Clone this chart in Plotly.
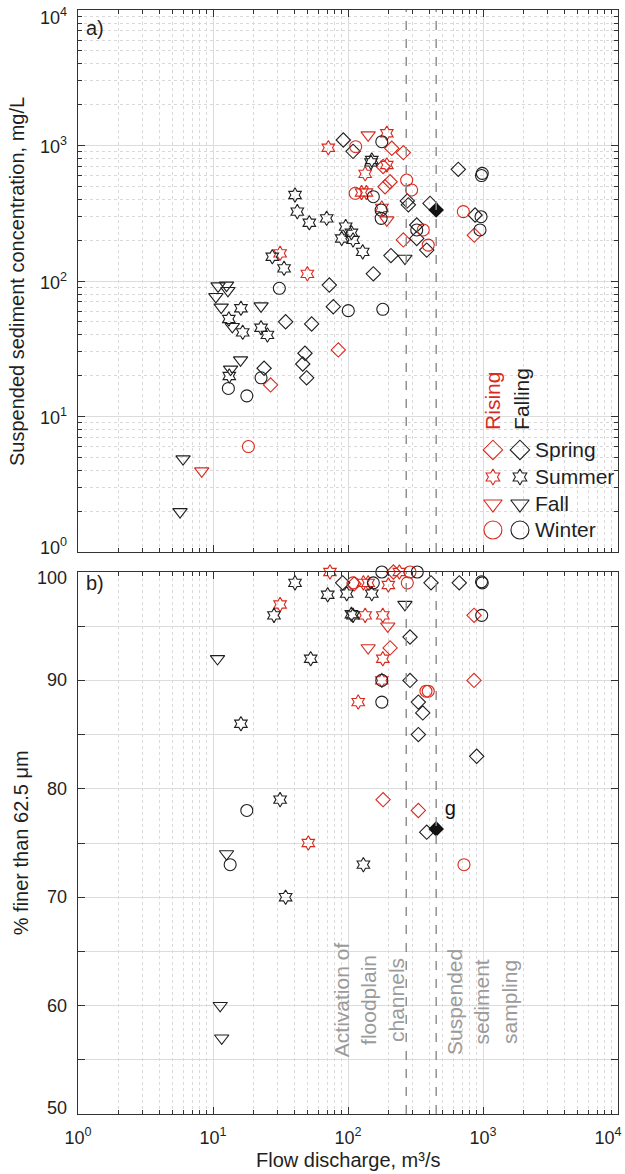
import math
import plotly.graph_objects as go

# ---------------- data ----------------
# Panel a: suspended sediment concentration (mg/L) against flow discharge (m3/s)
a_spr_rise_q = [26.7, 84.8, 211, 257, 182, 205, 188, 257, 862]
a_spr_rise_c = [17.1, 31, 954, 885, 700, 540, 496, 201, 218]
a_spr_fall_q = [23.9, 34.5, 53.8, 48, 46.2, 49.4, 72.7, 77.8, 92.3, 109, 154, 208, 275, 280, 405, 323, 323, 383, 656, 873]
a_spr_fall_c = [22.7, 50, 48.2, 29.3, 24.4, 19.3, 93.4, 64.6, 1098, 905, 113, 154, 390, 365, 374, 259, 206, 169, 667, 307]
a_sum_rise_q = [31.4, 50, 71.5, 194, 194, 134, 126, 137, 178]
a_sum_rise_c = [160, 113, 963, 1231, 718, 618, 450, 450, 346]
a_sum_fall_q = [13.2, 13.1, 16.1, 16.6, 22.7, 25.3, 27.5, 33.6, 40.5, 42.1, 51.7, 69.5, 89.8, 96.1, 106, 109, 128.5, 150, 148]
a_sum_fall_c = [19.9, 52.4, 62.9, 41.8, 45.2, 40, 151, 124, 431, 325, 269, 290, 206, 252, 227, 201, 164, 782, 750]
a_fal_rise_q = [8.25, 141, 194]
a_fal_rise_c = [3.96, 1195, 282]
a_fal_fall_q = [5.7, 6.0, 10.5, 10.9, 11.5, 12.6, 12.9, 13.5, 13.9, 16.0, 22.7, 264]
a_fal_fall_c = [1.98, 4.86, 76.6, 91.8, 64, 93, 85, 22.3, 46, 26.1, 65.4, 147]
a_win_rise_q = [18.3, 113, 114, 272, 296, 361, 393, 715]
a_win_rise_c = [6.0, 444, 980, 556, 470, 238, 184, 325]
a_win_fall_q = [13.0, 17.8, 22.7, 31, 100.5, 181, 178, 154, 176, 176, 323, 988, 975, 967, 950]
a_win_fall_c = [16.1, 14.2, 19.3, 88.3, 60.4, 61.8, 1067, 419, 334, 290, 238, 623, 600, 298, 238]

# Panel b: percent finer than 62.5 um against flow discharge (m3/s)
b_spr_rise_q = [217, 255, 111, 858, 205, 858, 182, 332]
b_spr_rise_f = [100, 100.1, 98.9, 96, 93, 90, 79, 78]
b_spr_fall_q = [91.3, 412, 667, 288, 288, 332, 358, 332, 898, 383]
b_spr_fall_f = [99, 99, 99, 94, 90, 88, 87, 85, 83, 76]
b_sum_rise_q = [73.5, 31.4, 130, 141, 199, 134, 181, 181, 178, 119, 50.8, 240]
b_sum_rise_f = [100, 97, 99, 99, 98.8, 96, 96, 92, 90, 88, 75, 100]
b_sum_fall_q = [42.1, 40.5, 70.7, 28.3, 52.9, 16.1, 31.4, 34.5, 97.8, 150, 109, 106, 130]
b_sum_fall_f = [100.1, 99, 97.9, 96, 92, 86, 79, 70, 98, 98, 96, 96.1, 73]
b_fal_rise_q = [197, 141]
b_fal_rise_f = [95, 93]
b_fal_fall_q = [10.8, 12.6, 11.3, 11.6, 264]
b_fal_fall_f = [92, 74, 60, 57, 97]
b_win_rise_q = [288, 275, 109, 378, 393, 723]
b_win_rise_f = [100, 99, 99, 89, 89, 73]
b_win_fall_q = [178, 326, 154, 988, 975, 978, 178, 178, 17.8, 13.4]
b_win_fall_f = [100, 100, 99, 99, 99.1, 96, 90, 88, 78, 73]

# Highlighted sample "g"
g_q = [450]
g_c = [334]
g_f = [76.3]

# Discharge thresholds (m3/s): floodplain channel activation, sediment sampling
threshold_q = [270, 450]

seasons = ["Spring", "Summer", "Fall", "Winter"]
x_tick_vals = [1, 10, 100, 1000, 10000]
# last label padded so it stays inside the figure's right edge
x_tick_text = ["10<sup>0</sup>", "10<sup>1</sup>", "10<sup>2</sup>", "10<sup>3</sup>",
               "10<sup>4</sup>&nbsp;&nbsp;&nbsp;&nbsp;"]
a_tick_vals = [1, 10, 100, 1000, 10000]
a_tick_text = ["10<sup>0</sup>", "10<sup>1</sup>", "10<sup>2</sup>", "10<sup>3</sup>", "10<sup>4</sup>"]
b_tick_vals = [50, 60, 70, 80, 90, 100]
b_tick_text = ["50", "60", "70", "80", "90", "100"]

# ---------------- styling ----------------
RED = "#d9291d"
BLK = "#1f1f1f"
GRAY_TXT = "#9b9b9b"
FONT = "Liberation Sans, Arial, sans-serif"
SYMBOL = {"Spring": "diamond-open", "Summer": "hexagram-open", "Fall": "triangle-down-open", "Winter": "circle-open"}
SIZE = {"Spring": 11, "Summer": 11, "Fall": 12.5, "Winter": 12}
LEG_SIZE = {"Spring": 15, "Summer": 12, "Fall": 16, "Winter": 18}
TICK_FONT = dict(size=18, color=BLK, family=FONT)

panel_a = {
    ("Spring", "rise"): (a_spr_rise_q, a_spr_rise_c), ("Spring", "fall"): (a_spr_fall_q, a_spr_fall_c),
    ("Summer", "rise"): (a_sum_rise_q, a_sum_rise_c), ("Summer", "fall"): (a_sum_fall_q, a_sum_fall_c),
    ("Fall", "rise"): (a_fal_rise_q, a_fal_rise_c), ("Fall", "fall"): (a_fal_fall_q, a_fal_fall_c),
    ("Winter", "rise"): (a_win_rise_q, a_win_rise_c), ("Winter", "fall"): (a_win_fall_q, a_win_fall_c),
}
panel_b = {
    ("Spring", "rise"): (b_spr_rise_q, b_spr_rise_f), ("Spring", "fall"): (b_spr_fall_q, b_spr_fall_f),
    ("Summer", "rise"): (b_sum_rise_q, b_sum_rise_f), ("Summer", "fall"): (b_sum_fall_q, b_sum_fall_f),
    ("Fall", "rise"): (b_fal_rise_q, b_fal_rise_f), ("Fall", "fall"): (b_fal_fall_q, b_fal_fall_f),
    ("Winter", "rise"): (b_win_rise_q, b_win_rise_f), ("Winter", "fall"): (b_win_fall_q, b_win_fall_f),
}

fig = go.Figure()

for (season, limb), (q, v) in panel_a.items():
    fig.add_trace(go.Scatter(
        x=q, y=v, mode="markers", xaxis="x", yaxis="y", showlegend=False, cliponaxis=False,
        marker=dict(symbol=SYMBOL[season], size=SIZE[season],
                    color=RED if limb == "rise" else BLK, line=dict(width=1.1))))
for (season, limb), (q, v) in panel_b.items():
    fig.add_trace(go.Scatter(
        x=q, y=v, mode="markers", xaxis="x2", yaxis="y2", showlegend=False, cliponaxis=False,
        marker=dict(symbol=SYMBOL[season], size=SIZE[season],
                    color=RED if limb == "rise" else BLK, line=dict(width=1.1))))

# Sample g shown as a filled diamond in both panels
fig.add_trace(go.Scatter(x=g_q, y=g_c, mode="markers", xaxis="x", yaxis="y", showlegend=False,
                         cliponaxis=False, marker=dict(symbol="diamond", size=12, color="#111111")))
fig.add_trace(go.Scatter(x=g_q, y=g_f, mode="markers+text", xaxis="x2", yaxis="y2", showlegend=False,
                         cliponaxis=False, text=["g"], textposition="top right",
                         textfont=dict(size=20, color="#111111", family=FONT),
                         marker=dict(symbol="diamond", size=12, color="#111111")))

# ---------------- legend (drawn in its own small axes) ----------------
leg_row_y = [450, 477, 504, 530]
leg_rise_x, leg_fall_x, leg_text_x = 493, 520, 533
for season, yy in zip(seasons, leg_row_y):
    fig.add_trace(go.Scatter(x=[leg_rise_x, leg_fall_x], y=[yy, yy], mode="markers", xaxis="x3", yaxis="y3",
                             showlegend=False, cliponaxis=False,
                             marker=dict(symbol=SYMBOL[season], size=LEG_SIZE[season],
                                         color=[RED, BLK], line=dict(width=1.1))))
    fig.add_annotation(x=leg_text_x, y=yy, xref="x3", yref="y3", text=season, showarrow=False,
                       xanchor="left", yanchor="middle", font=dict(size=21, color=BLK, family=FONT))
fig.add_annotation(x=leg_rise_x, y=432, xref="x3", yref="y3", text="Rising", textangle=-90, showarrow=False,
                   xanchor="center", yanchor="bottom", font=dict(size=21, color=RED, family=FONT))
fig.add_annotation(x=leg_fall_x + 2, y=432, xref="x3", yref="y3", text="Falling", textangle=-90, showarrow=False,
                   xanchor="center", yanchor="bottom", font=dict(size=21, color=BLK, family=FONT))

# ---------------- threshold lines ----------------
for q in threshold_q:
    for xr, yr in (("x", "y domain"), ("x2", "y2 domain")):
        fig.add_shape(type="line", xref=xr, yref=yr, x0=q, x1=q, y0=0, y1=1,
                      line=dict(color="#8a8a8a", width=1.4, dash="dash"))

# ---------------- axes ----------------
minor_log = [m * 10 ** k for k in range(4) for m in range(2, 10)]
axis_common = dict(showline=True, linecolor="#333333", linewidth=1, mirror="ticks", ticks="inside",
                   ticklen=7, tickcolor="#333333", zeroline=False, gridcolor="#dcdcdc", gridwidth=1,
                   automargin=False, ticklabeloverflow="allow", tickfont=TICK_FONT)
log_minor = dict(tickmode="array", tickvals=minor_log, ticks="inside", ticklen=4, tickcolor="#333333",
                 showgrid=True, gridcolor="#d9d9d9", griddash="dot", gridwidth=1)
lin_minor = dict(dtick=5, ticks="inside", ticklen=7, tickcolor="#333333",
                 showgrid=True, gridcolor="#dcdcdc", gridwidth=1)

A_DOM = [0.50906, 1.0]
B_DOM = [0.0, 0.49094]

fig.update_layout(
    width=625, height=1174,
    margin=dict(l=78, r=7, t=10, b=60, autoexpand=False),
    paper_bgcolor="white", plot_bgcolor="rgba(0,0,0,0)",
    font=dict(family=FONT, color=BLK),
    xaxis=dict(type="log", range=[0, 4], anchor="y", domain=[0, 1], tickmode="array",
               tickvals=x_tick_vals, ticktext=x_tick_text, showticklabels=False, minor=log_minor,
               **axis_common),
    yaxis=dict(type="log", range=[0, 4], anchor="x", domain=A_DOM, tickmode="array",
               tickvals=a_tick_vals, showticklabels=False, minor=log_minor, **axis_common),
    xaxis2=dict(type="log", range=[0, 4], anchor="y2", domain=[0, 1], tickmode="array",
                tickvals=x_tick_vals, ticktext=x_tick_text, minor=log_minor, ticklabelstandoff=7,
                **axis_common),
    yaxis2=dict(range=[50, 100], anchor="x2", domain=B_DOM, tickmode="array", tickvals=b_tick_vals,
                showticklabels=False, minor=lin_minor, **axis_common),
    xaxis3=dict(domain=[0.748, 1.0], anchor="y3", range=[482, 618], visible=False, automargin=False),
    yaxis3=dict(domain=[0.5154, 0.683], anchor="x3", range=[545, 360], visible=False, automargin=False),
)

# Y tick labels; the end labels are nudged inward so they stay clear of the panel edges
LABEL_X = -0.017


def end_shift(i, n):
    if i == 0:
        return 6
    if i == n - 1:
        return -6
    return 0


for i, (v, t) in enumerate(zip(a_tick_vals, a_tick_text)):
    fig.add_annotation(x=LABEL_X, y=math.log10(v), xref="paper", yref="y", text=t, showarrow=False,
                       xanchor="right", yanchor="middle", yshift=end_shift(i, len(a_tick_vals)),
                       font=TICK_FONT)
for i, (v, t) in enumerate(zip(b_tick_vals, b_tick_text)):
    fig.add_annotation(x=LABEL_X, y=v, xref="paper", yref="y2", text=t, showarrow=False,
                       xanchor="right", yanchor="middle", yshift=end_shift(i, len(b_tick_vals)),
                       font=TICK_FONT)

# Panel tags
fig.add_annotation(x=0.012, y=0.9837, xref="paper", yref="paper", text="a)", showarrow=False,
                   xanchor="left", yanchor="middle", font=dict(size=20, color=BLK, family=FONT))
fig.add_annotation(x=0.012, y=0.481, xref="paper", yref="paper", text="b)", showarrow=False,
                   xanchor="left", yanchor="middle", font=dict(size=20, color=BLK, family=FONT))

# Axis titles
fig.add_annotation(x=-0.113, y=0.7545, xref="paper", yref="paper", textangle=-90, showarrow=False,
                   text="Suspended sediment concentration, mg/L", xanchor="center", yanchor="middle",
                   font=dict(size=20, color=BLK, family=FONT))
fig.add_annotation(x=-0.105, y=0.2455, xref="paper", yref="paper", textangle=-90, showarrow=False,
                   text="% finer than 62.5 μm", xanchor="center", yanchor="middle",
                   font=dict(size=20, color=BLK, family=FONT))
fig.add_annotation(x=0.5, y=-0.0417, xref="paper", yref="paper", showarrow=False,
                   text="Flow discharge, m³/s", xanchor="center", yanchor="middle",
                   font=dict(size=20, color=BLK, family=FONT))

# Threshold descriptions
fig.add_annotation(x=0.5391, y=0.1032, xref="paper", yref="paper", textangle=-90, showarrow=False,
                   text="Activation of<br>floodplain<br>channels", align="center",
                   xanchor="center", yanchor="middle", font=dict(size=21, color=GRAY_TXT, family=FONT))
fig.add_annotation(x=0.7481, y=0.1014, xref="paper", yref="paper", textangle=-90, showarrow=False,
                   text="Suspended<br>sediment<br>sampling", align="center",
                   xanchor="center", yanchor="middle", font=dict(size=21, color=GRAY_TXT, family=FONT))

fig.write_html("out.html")
